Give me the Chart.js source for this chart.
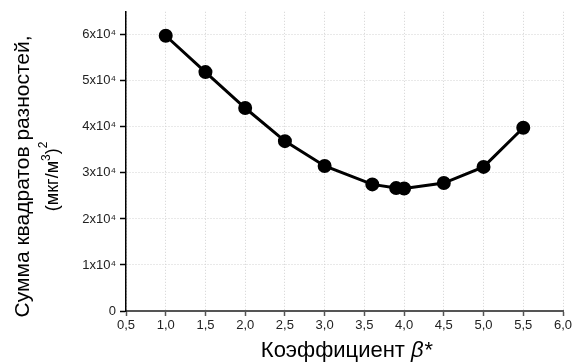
<!DOCTYPE html>
<html>
<head>
<meta charset="utf-8">
<script src="https://cdn.jsdelivr.net/npm/chart.js@4"></script>
<style>
  html, body { margin: 0; padding: 0; background: #fff; }
</style>
</head>
<body>
<canvas id="chart" width="575" height="364"></canvas>
<script>
// values
var betaValues = [1.0, 1.5, 2.0, 2.5, 3.0, 3.6, 3.9, 4.0, 4.5, 5.0, 5.5];
var sumSquares = [59800, 51900, 44100, 36900, 31500, 27500, 26700, 26600, 27800, 31300, 39800];
var xTickValues = [0.5, 1.0, 1.5, 2.0, 2.5, 3.0, 3.5, 4.0, 4.5, 5.0, 5.5, 6.0];
var yTickValues = [0, 10000, 20000, 30000, 40000, 50000, 60000];
var yTickLabels = ['0', '1x10\u2074', '2x10\u2074', '3x10\u2074', '4x10\u2074', '5x10\u2074', '6x10\u2074'];

var FONT = '"Liberation Sans", Arial, sans-serif';

// draws a row of text pieces, each [text, font, raise], centred on 0
function drawPieces(ctx, pieces, y) {
  var total = 0;
  pieces.forEach(function (p) { ctx.font = p[1]; p.w = ctx.measureText(p[0]).width; total += p.w; });
  var x = -total / 2;
  ctx.textAlign = 'left';
  pieces.forEach(function (p) {
    ctx.font = p[1];
    ctx.fillText(p[0], x, y - p[2]);
    x += p.w;
  });
}

// axis titles: italic beta and real superscripts, so draw them by hand
var axisTitles = {
  id: 'axisTitles',
  afterDraw: function (chart) {
    var ctx = chart.ctx;
    var area = chart.chartArea;
    ctx.save();
    ctx.fillStyle = '#000';
    ctx.textBaseline = 'alphabetic';

    // x title
    ctx.save();
    ctx.translate((area.left + area.right) / 2 + 2, 0);
    drawPieces(ctx, [
      ['Коэффициент ', '22px ' + FONT, 0],
      ['β*', 'italic 22px ' + FONT, 0]
    ], 357);
    ctx.restore();

    // y title, two lines
    var cy = (area.top + area.bottom) / 2 + 15;
    ctx.translate(0, cy);
    ctx.rotate(-Math.PI / 2);
    ctx.textAlign = 'center';
    ctx.font = '21px ' + FONT;
    ctx.fillText('Сумма квадратов разностей,', 0, 29);
    drawPieces(ctx, [
      ['(мкг/м', '18px ' + FONT, 0],
      ['3', '12px ' + FONT, 8],
      [')', '18px ' + FONT, 0],
      ['2', '12px ' + FONT, 11]
    ], 58);
    ctx.restore();
  }
};

var ctx = document.getElementById('chart').getContext('2d');
var chart = new Chart(ctx, {
  type: 'line',
  data: {
    datasets: [{
      data: betaValues.map(function (b, i) { return { x: b, y: sumSquares[i] }; }),
      borderColor: '#000',
      backgroundColor: '#000',
      borderWidth: 3,
      pointRadius: 5.5,
      pointHoverRadius: 5.5,
      tension: 0
    }]
  },
  options: {
    responsive: false,
    animation: false,
    layout: { padding: { top: 10, right: 12, left: 0, bottom: 0 } },
    plugins: {
      legend: { display: false },
      tooltip: { enabled: false }
    },
    scales: {
      x: {
        type: 'linear',
        min: 0.5,
        max: 6.0,
        afterFit: function (scale) { scale.height = 53; },
        afterBuildTicks: function (scale) {
          scale.ticks = xTickValues.map(function (v) { return { value: v }; });
        },
        ticks: {
          padding: 2,
          color: '#222',
          font: { family: FONT, size: 13 },
          maxRotation: 0,
          callback: function (v) { return v.toFixed(1).replace('.', ','); }
        },
        grid: {
          color: '#d2d2d2',
          lineWidth: 1,
          tickLength: 5,
          tickColor: '#555',
          tickWidth: 1.5
        },
        border: { color: '#555', width: 2, dash: [1, 2] }
      },
      y: {
        type: 'linear',
        min: 0,
        max: 65000,
        afterFit: function (scale) { scale.width = 126; },
        afterBuildTicks: function (scale) {
          scale.ticks = yTickValues.map(function (v) { return { value: v }; });
        },
        ticks: {
          padding: 4,
          color: '#222',
          font: { family: FONT, size: 13 },
          callback: function (v) { return yTickLabels[yTickValues.indexOf(v)]; }
        },
        grid: {
          color: '#d2d2d2',
          lineWidth: 1,
          tickLength: 6,
          tickColor: '#000',
          tickWidth: 1.5
        },
        border: { color: '#000', width: 1.5, dash: [1, 2] }
      }
    }
  },
  plugins: [axisTitles]
});
</script>
</body>
</html>
